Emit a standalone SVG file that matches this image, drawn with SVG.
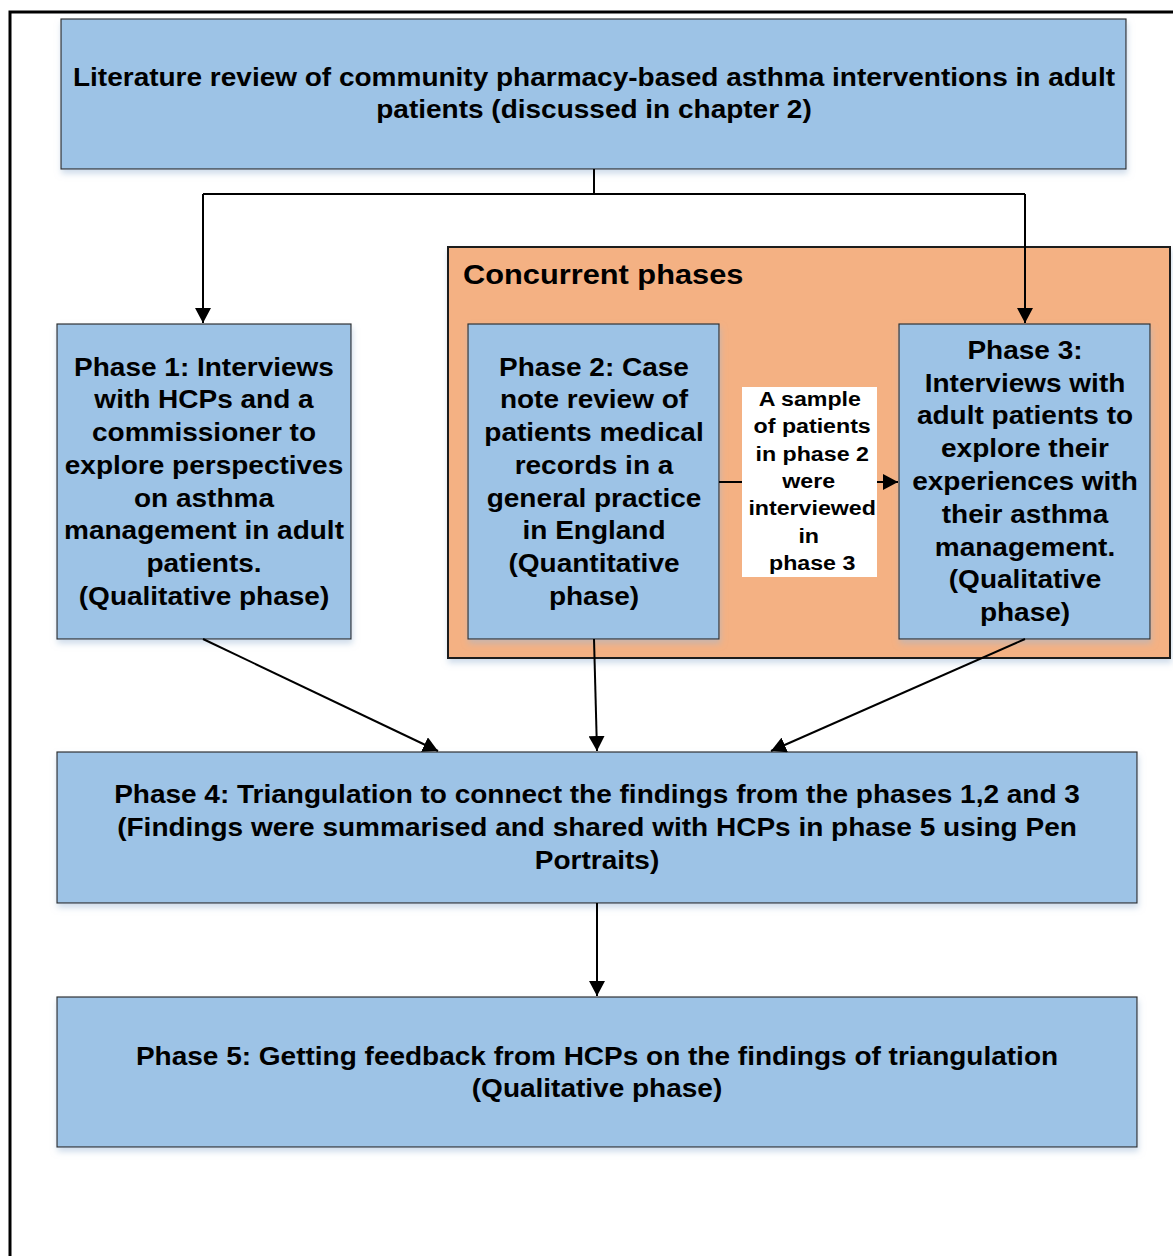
<svg xmlns="http://www.w3.org/2000/svg" width="1173" height="1256" viewBox="0 0 1173 1256">
  <style>
    .box { fill: #9DC3E6; stroke: #2F2F2F; stroke-width: 1.2; }
    .group { fill: #F4B183; stroke: #1A1A1A; stroke-width: 2; }
    .note { fill: #FFFFFF; }
    .t { font-family: "Liberation Sans", Arial, sans-serif; font-weight: bold; font-size: 25px; fill: #000; text-anchor: middle; }
    .s { font-size: 20px; }
    .h { text-anchor: start; font-size: 27px; }
    .line { fill: none; stroke: #000; stroke-width: 2; }
  </style>
  <defs>
    <marker id="arrowL" viewBox="0 0 15 16" refX="15" refY="8" markerWidth="15" markerHeight="16" markerUnits="userSpaceOnUse" orient="auto">
      <path d="M0,0 L15,8 L0,16 z" fill="#000"/>
    </marker>
    <filter id="shadow" x="-5%" y="-5%" width="110%" height="120%">
      <feDropShadow dx="1" dy="4" stdDeviation="3" flood-color="#9DB7D5" flood-opacity="0.5"/>
    </filter>
  </defs>

  <rect width="1173" height="1256" fill="#FFFFFF"/>
  <!-- page frame -->
  <path d="M10,1256 L10,12 L1173,12" fill="none" stroke="#000" stroke-width="3"/>

  <g id="literature-review">
    <rect class="box" x="61" y="19" width="1065" height="150" filter="url(#shadow)"/>
    <g transform="translate(594,0) scale(1.12,1)">
      <text class="t" x="0" y="86">Literature review of community pharmacy-based asthma interventions in adult</text>
      <text class="t" x="0" y="118">patients (discussed in chapter 2)</text>
    </g>
  </g>

  <g id="concurrent-phases">
    <rect class="group" x="448" y="247" width="722" height="411" filter="url(#shadow)"/>
    <g transform="translate(463,0) scale(1.14,1)">
      <text class="t h" x="0" y="284">Concurrent phases</text>
    </g>
  </g>

  <g id="phase1">
    <rect class="box" x="57" y="324" width="294" height="315" filter="url(#shadow)"/>
    <g transform="translate(204,0) scale(1.12,1)">
      <text class="t" x="0" y="376">Phase 1: Interviews</text>
      <text class="t" x="0" y="408">with HCPs and a</text>
      <text class="t" x="0" y="441">commissioner to</text>
      <text class="t" x="0" y="474">explore perspectives</text>
      <text class="t" x="0" y="507">on asthma</text>
      <text class="t" x="0" y="539">management in adult</text>
      <text class="t" x="0" y="572">patients.</text>
      <text class="t" x="0" y="605">(Qualitative phase)</text>
    </g>
  </g>

  <g id="phase2">
    <rect class="box" x="468" y="324" width="251" height="315" filter="url(#shadow)"/>
    <g transform="translate(594,0) scale(1.12,1)">
      <text class="t" x="0" y="376">Phase 2: Case</text>
      <text class="t" x="0" y="408">note review of</text>
      <text class="t" x="0" y="441">patients medical</text>
      <text class="t" x="0" y="474">records in a</text>
      <text class="t" x="0" y="507">general practice</text>
      <text class="t" x="0" y="539">in England</text>
      <text class="t" x="0" y="572">(Quantitative</text>
      <text class="t" x="0" y="605">phase)</text>
    </g>
  </g>

  <g id="phase3">
    <rect class="box" x="899" y="324" width="251" height="315" filter="url(#shadow)"/>
    <g transform="translate(1025,0) scale(1.12,1)">
      <text class="t" x="0" y="359">Phase 3:</text>
      <text class="t" x="0" y="392">Interviews with</text>
      <text class="t" x="0" y="424">adult patients to</text>
      <text class="t" x="0" y="457">explore their</text>
      <text class="t" x="0" y="490">experiences with</text>
      <text class="t" x="0" y="523">their asthma</text>
      <text class="t" x="0" y="556">management.</text>
      <text class="t" x="0" y="588">(Qualitative</text>
      <text class="t" x="0" y="621">phase)</text>
    </g>
  </g>

  <g id="phase4">
    <rect class="box" x="57" y="752" width="1080" height="151" filter="url(#shadow)"/>
    <g transform="translate(597,0) scale(1.12,1)">
      <text class="t" x="0" y="803">Phase 4: Triangulation to connect the findings from the phases 1,2 and 3</text>
      <text class="t" x="0" y="836">(Findings were summarised and shared with HCPs in phase 5 using Pen</text>
      <text class="t" x="0" y="869">Portraits)</text>
    </g>
  </g>

  <g id="phase5">
    <rect class="box" x="57" y="997" width="1080" height="150" filter="url(#shadow)"/>
    <g transform="translate(597,0) scale(1.12,1)">
      <text class="t" x="0" y="1065">Phase 5: Getting feedback from HCPs on the findings of triangulation</text>
      <text class="t" x="0" y="1097">(Qualitative phase)</text>
    </g>
  </g>

  <g id="connectors">
    <path class="line" d="M594,169 L594,194 M203,194 L1025,194"/>
    <path class="line" d="M203,194 L203,323" marker-end="url(#arrowL)"/>
    <path class="line" d="M1025,194 L1025,323" marker-end="url(#arrowL)"/>
    <path class="line" d="M719,482 L742,482"/>
    <path class="line" d="M877,482 L898,482" marker-end="url(#arrowL)"/>
    <path class="line" d="M203,639 L438,751" marker-end="url(#arrowL)"/>
    <path class="line" d="M594,639 L597,751" marker-end="url(#arrowL)"/>
    <path class="line" d="M1025,639 L771,751" marker-end="url(#arrowL)"/>
    <path class="line" d="M597,903 L597,996" marker-end="url(#arrowL)"/>
  </g>

  <g id="sample-note">
    <rect class="note" x="742" y="387" width="135" height="190"/>
    <g transform="translate(811,0) scale(1.16,1)">
      <text class="t s" x="-1" y="406">A sample</text>
      <text class="t s" x="1" y="433">of patients</text>
      <text class="t s" x="1" y="461">in phase 2</text>
      <text class="t s" x="-2" y="488">were</text>
      <text class="t s" x="1" y="515">interviewed</text>
      <text class="t s" x="-2" y="543">in</text>
      <text class="t s" x="1" y="570">phase 3</text>
    </g>
  </g>
</svg>
